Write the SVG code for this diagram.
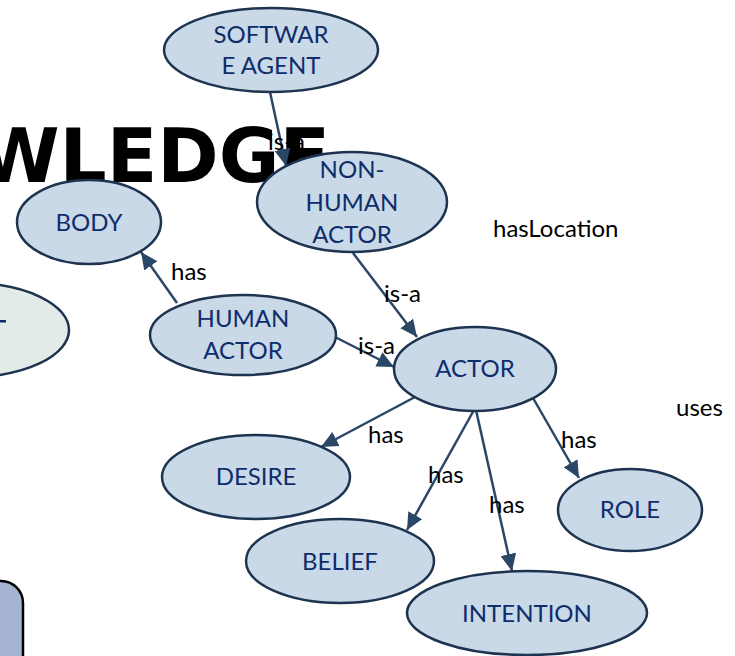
<svg xmlns="http://www.w3.org/2000/svg" width="735" height="656" viewBox="0 0 735 656">
<defs>
<marker id="arr" markerUnits="userSpaceOnUse" markerWidth="18" markerHeight="16" refX="17" refY="8" orient="auto">
<path d="M0,0 L17,8 L0,16 z" fill="#2b4766"/>
</marker>
<style>
.n{fill:#c9d9e8;stroke:#1d3350;stroke-width:2.5}
.t{font-family:Lato,"Open Sans",sans-serif;font-size:24px;fill:#0f2d6b;text-anchor:middle}
.l{font-family:Lato,"Open Sans",sans-serif;font-size:24px;fill:#000}
.e{stroke:#2b4766;stroke-width:2.5;fill:none;marker-end:url(#arr)}
</style>
</defs>
<rect width="735" height="656" fill="#fff"/>
<text x="330" y="182" font-family="DejaVu Sans" font-weight="bold" font-size="74" text-anchor="end" fill="#000">WLEDGE</text>
<g id="left-node">
<ellipse cx="-30" cy="330" rx="99" ry="47" fill="#e2ebe7" stroke="#1d3350" stroke-width="2.5"/>
<rect x="0" y="320" width="6" height="2.5" fill="#0f2d6b"/>
</g>
<g id="left-box">
<rect x="-40" y="581" width="63" height="120" rx="22" fill="#a5b4d3" stroke="#000" stroke-width="2.5"/>
</g>
<g id="connectors">
<line class="e" x1="270" y1="92" x2="286" y2="166"/>
<line class="e" x1="177" y1="303" x2="141" y2="252"/>
<line class="e" x1="353" y1="253" x2="417" y2="337"/>
<line class="e" x1="335" y1="337" x2="394" y2="367"/>
<line class="e" x1="415" y1="397" x2="321" y2="447"/>
<line class="e" x1="474" y1="410" x2="407" y2="530"/>
<line class="e" x1="476" y1="410" x2="512" y2="571"/>
<line class="e" x1="533" y1="398" x2="579" y2="478"/>
<text class="l" x="268" y="150">is-a</text>
<text class="l" x="171" y="280">has</text>
<text class="l" x="384" y="302">is-a</text>
<text class="l" x="358" y="354">is-a</text>
<text class="l" x="368" y="443">has</text>
<text class="l" x="428" y="483">has</text>
<text class="l" x="489" y="513">has</text>
<text class="l" x="561" y="448">has</text>
<text class="l" x="493" y="237">hasLocation</text>
<text class="l" x="676" y="416">uses</text>
</g>
<g id="software-agent">
<ellipse class="n" cx="271" cy="50" rx="107" ry="42"/>
<text class="t" x="271" y="43">SOFTWAR</text>
<text class="t" x="271" y="74">E AGENT</text>
</g>
<g id="non-human-actor">
<ellipse class="n" cx="352" cy="202" rx="95" ry="50"/>
<text class="t" x="352" y="178">NON-</text>
<text class="t" x="352" y="211">HUMAN</text>
<text class="t" x="352" y="243">ACTOR</text>
</g>
<g id="body">
<ellipse class="n" cx="89" cy="222" rx="72" ry="42"/>
<text class="t" x="89" y="231">BODY</text>
</g>
<g id="human-actor">
<ellipse class="n" cx="243" cy="335" rx="93" ry="40"/>
<text class="t" x="243" y="327">HUMAN</text>
<text class="t" x="243" y="359">ACTOR</text>
</g>
<g id="actor">
<ellipse class="n" cx="475" cy="369" rx="81" ry="42"/>
<text class="t" x="475" y="377">ACTOR</text>
</g>
<g id="desire">
<ellipse class="n" cx="256" cy="477" rx="94" ry="42"/>
<text class="t" x="256" y="485">DESIRE</text>
</g>
<g id="belief">
<ellipse class="n" cx="340" cy="561" rx="94" ry="42"/>
<text class="t" x="340" y="570">BELIEF</text>
</g>
<g id="intention">
<ellipse class="n" cx="527" cy="613" rx="120" ry="42"/>
<text class="t" x="527" y="622">INTENTION</text>
</g>
<g id="role">
<ellipse class="n" cx="630" cy="510" rx="72" ry="41"/>
<text class="t" x="630" y="518">ROLE</text>
</g>
</svg>
